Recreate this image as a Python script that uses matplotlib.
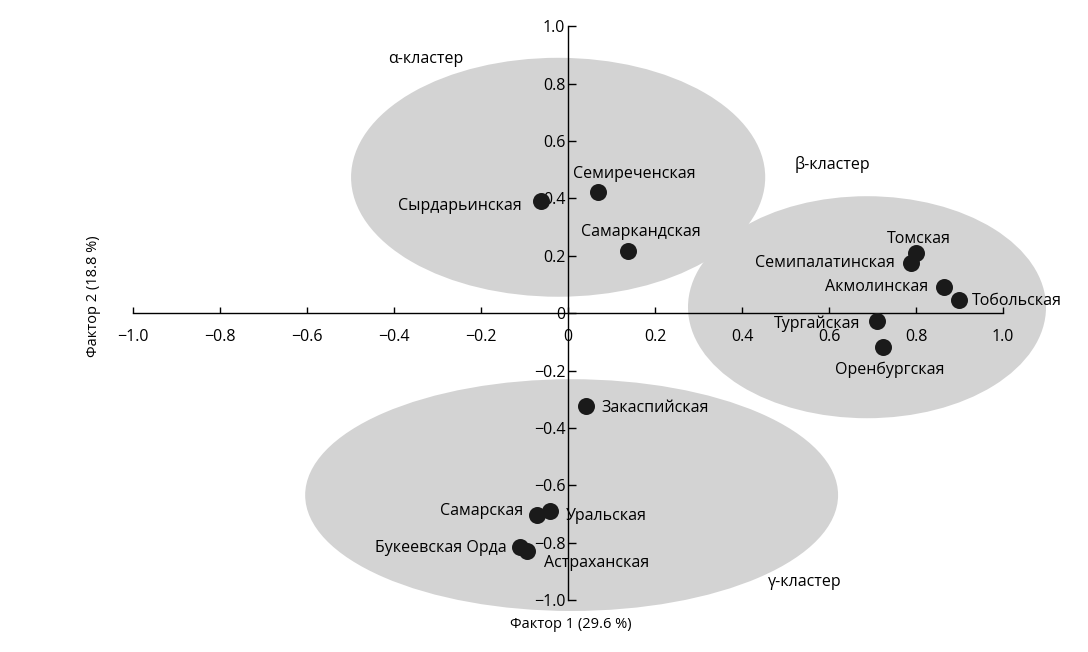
import matplotlib
matplotlib.use("Agg")
import matplotlib.pyplot as plt
from matplotlib.patches import Ellipse
from matplotlib.ticker import FuncFormatter, FixedLocator

plt.rcParams['font.family'] = ['Open Sans', 'DejaVu Sans']

# regions and factor scores
names = ['Сырдарьинская', 'Семиреченская', 'Самаркандская',
         'Томская', 'Семипалатинская', 'Акмолинская', 'Тобольская',
         'Тургайская', 'Оренбургская',
         'Закаспийская', 'Самарская', 'Уральская', 'Букеевская Орда', 'Астраханская']
f1 = [-0.062, 0.069, 0.138,
      0.800, 0.789, 0.864, 0.899,
      0.710, 0.724,
      0.041, -0.071, -0.041, -0.110, -0.094]
f2 = [0.390, 0.424, 0.216,
      0.209, 0.174, 0.090, 0.045,
      -0.028, -0.118,
      -0.325, -0.702, -0.689, -0.814, -0.828]

ticks = [-1.0, -0.8, -0.6, -0.4, -0.2, 0.0, 0.2, 0.4, 0.6, 0.8, 1.0]

# clusters: center x, center y, width, height
clusters = ['α-кластер', 'β-кластер', 'γ-кластер']
cl_cx = [-0.023, 0.687, 0.008]
cl_cy = [0.474, 0.021, -0.634]
cl_w = [0.952, 0.823, 1.225]
cl_h = [0.833, 0.774, 0.808]
cl_lx = [-0.414, 0.520, 0.460]
cl_ly = [0.885, 0.517, -0.937]

# label offsets in pixels and alignment
offsets = [(-19, -5, 'right'), (36, 18, 'center'), (13, 19, 'center'),
           (3, 14, 'center'), (-17, 0, 'right'), (-16, 0, 'right'), (13, -1, 'left'),
           (-17, -2, 'right'), (7, -23, 'center'),
           (15, -2, 'left'), (-14, 4, 'right'), (15, -5, 'left'), (-14, -1, 'right'), (17, -12, 'left')]

fig = plt.figure(figsize=(10.88, 6.52), dpi=100)
ax = fig.add_axes([0, 0, 1, 1])
ax.set_xlim(-1.306, 1.195)
ax.set_ylim(-1.181, 1.092)

for i in range(len(clusters)):
    ax.add_patch(Ellipse((cl_cx[i], cl_cy[i]), cl_w[i], cl_h[i],
                         facecolor='#d3d3d3', edgecolor='none', zorder=0))
    ax.text(cl_lx[i], cl_ly[i], clusters[i], fontsize=11.5, ha='left', va='center')

ax.scatter(f1, f2, s=150, color='#1a1a1a', zorder=3, linewidths=0)
for i, n in enumerate(names):
    dx, dy, ha = offsets[i]
    ax.annotate(n, (f1[i], f2[i]), xytext=(dx, dy), textcoords='offset pixels',
                ha=ha, va='center', fontsize=11.5, zorder=4)

for s in ['top', 'right']:
    ax.spines[s].set_visible(False)
ax.spines['left'].set_position(('data', 0))
ax.spines['bottom'].set_position(('data', 0))
ax.spines['left'].set_bounds(-1, 1)
ax.spines['bottom'].set_bounds(-1, 1)
for s in ['left', 'bottom']:
    ax.spines[s].set_linewidth(1.0)
    ax.spines[s].set_zorder(2)

fmt = FuncFormatter(lambda v, p: '0' if abs(v) < 1e-9 else ('%.1f' % v).replace('-', '−'))
ax.xaxis.set_major_locator(FixedLocator(ticks))
ax.yaxis.set_major_locator(FixedLocator(ticks))
ax.xaxis.set_major_formatter(fmt)
ax.yaxis.set_major_formatter(fmt)
ax.tick_params(axis='x', direction='in', length=4, width=1, pad=11, labelsize=11.5)
ax.tick_params(axis='y', direction='in', length=6, width=1, pad=2, labelsize=11.5)

ax.text(0.005, -1.085, 'Фактор 1 (29.6 %)', fontsize=10.5, ha='center', va='center')
ax.text(-1.09, 0.06, 'Фактор 2 (18.8 %)', fontsize=10.5, ha='center', va='center', rotation=90)

fig.savefig('out.png', dpi=100)
